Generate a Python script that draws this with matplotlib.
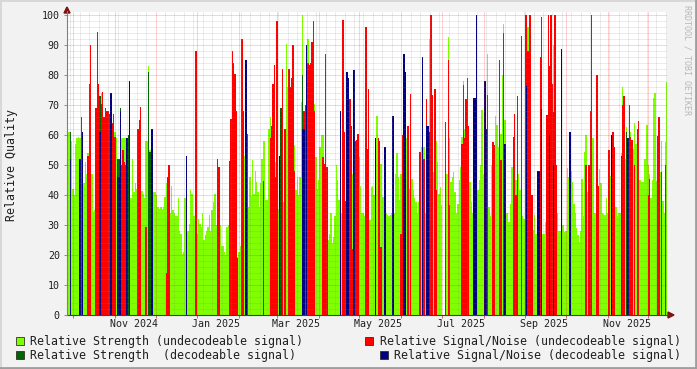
import datetime as dt
import matplotlib
matplotlib.use('Agg')
import matplotlib.pyplot as plt
import matplotlib.dates as mdates
from matplotlib.patches import Rectangle, Polygon
from matplotlib.ticker import MultipleLocator

START = dt.datetime(2024, 9, 26, 10)
SPAN_DAYS = 444.4

# daily values, index = days since START, None = no sample
strength_undec = [
    61, 61, None, 58, 42, 40, 57, 59, 59.5, 59,
    None, None, 44, 51, 47, 54, 76, None, 47, 34.5,
    35, None, None, None, 70, 74, None, None, None, None,
    None, None, None, None, None, 61, 59, None, None, None,
    59, 59, 59, 59, None, None, None, 39, 52, 41,
    44, 42, None, None, None, 41.5, 40.5, 39, 58, 58,
    83, 55, None, None, 41, 41, 40, 36, 35.5, 36,
    35.5, 36, 39.5, 44, 37, 35, 34, 43, 35, 34,
    33, 33, 39, 28, 27, 20.5, 21, 39, 21, 28,
    30.5, 41.7, 40.5, 33, 33, 30, 27, 32, 30.5, 29.5,
    34, 25, 26.7, 28, 29.5, 33.3, 28, 35, 37.8, 40.5,
    30, 30, 30, 30, 23, 23, 21, 20, 29.5, 30,
    None, None, None, None, None, None, 19.5, 21, 23, None,
    None, 53, None, None, 36, 46, 39.7, 51.7, 40.5, 48,
    44.5, 41, 36, 44, 52, 58, 58, 38.3, 38.3, 62,
    66, None, 42, None, 51, None, 35.5, None, None, 47,
    37.8, 47, 90.5, 76, None, None, None, None, 56.7, 41.7,
    46, 40, 46, 71, 100, None, None, None, 92, None,
    40, 50, None, 70.5, 52.8, 42, 45, 56, 60, 60,
    None, None, 34, 25, 27, 34, 24, 26, 33, 50,
    45, 38.3, None, 34, None, None, 34, None, 45, None,
    None, 47, None, 52.8, None, None, 52.8, 43, 34, 34,
    33, None, 38, None, 31.7, 42.8, 43, 40, None, 66.3,
    None, 50.5, 50.5, 39.4, 39.4, None, 34, 33.3, 33, 33.3,
    34, None, 34, 47, 54, 46, 38.3, 47, None, None,
    None, 59, None, 42, None, 45.5, 41.7, 39, 37.8, 34,
    37.8, None, 56, None, 56, 34, None, None, 92, None,
    47.8, 47.8, None, 58, 51, 40.5, 42.8, 36.7, None, None,
    None, 47, 92.8, 59, 44.5, 46, 47.8, 41, 34, 37,
    45, 49.4, 59.4, 78, 62, None, None, None, 44.5, 37.8,
    34, None, None, None, 41.7, 45, 50, 68.3, 47, None,
    None, 87, 36, 33, 50, None, None, 66.3, 63.3, 56,
    None, 60.5, 80, 97, 65, 34, 34, 31, 37, 49.4,
    None, None, 45, None, 47, 41.7, None, 33, 32, None,
    None, 96, None, None, None, 28.3, 33.3, 27, None, None,
    None, None, 27, 27, 31, None, None, None, None, None,
    90, None, None, 34, 28, 28, None, 30, 27.8, 28,
    49, 46, None, 48, 44.5, 37, 34, 29, 26.7, 24.5,
    28, 45.5, 33, 54.5, 60, 41, None, None, 72, 59,
    34, 34, None, None, 48.6, 44, 34, 33.7, 33.3, 39,
    34, None, 46.4, None, None, None, 36, 33, 34, 34,
    54, 76, None, 52, 62.8, None, None, 61, None, 55.5,
    64, 57, None, None, 45, 44.5, 44.5, 52, 52, 63.3,
    50, 47, 39, 45, 72.2, 74, 44.8, None, 47.8, 47.8,
    58, 38, 34, 57.8, 77.8,
]

strength_dec_days = [2, 24, 37, 38, 39, 45, 60, 61, 158, 174, 268, 301, 303, 360, 410, 414]
strength_dec = [61, 73, 52, 52, 69, 60, 81, 54.5, 69, 80, 61, 59, 54, 64, 53, 61]

sn_undec_days = [
    0, 10, 15, 16, 17, 21, 22, 23, 25, 26, 27, 28, 29, 30, 31, 33, 34, 35, 40, 41,
    42, 43, 52, 53, 54, 58, 73, 74, 75, 95, 111, 112, 120, 121, 122, 123, 124, 125, 126, 129,
    130, 133, 145, 150, 151, 152, 153, 154, 155, 159, 161, 164, 165, 166, 167, 168, 175, 176, 178, 179,
    180, 181, 182, 183, 189, 190, 191, 192, 204, 205, 206, 209, 210, 211, 213, 214, 215, 221, 222, 223,
    230, 231, 232, 247, 248, 252, 254, 261, 264, 266, 269, 270, 272, 273, 280, 282, 283, 292, 293, 294,
    295, 296, 297, 311, 315, 316, 320, 321, 323, 330, 331, 332, 333, 336, 339, 340, 341, 342, 343, 344,
    350, 351, 355, 356, 357, 358, 359, 360, 361, 362, 384, 386, 387, 388, 392, 393, 401, 404, 405, 411,
    412, 416, 417, 418, 420, 422, 423, 430, 431, 437, 438, 440, 443,
]
sn_undec = [
    58.5, 66, 53, 77, 90, 69, 94.5, 77, 70.5, 74.5, 66, 69, 68, 68, 67, 64, 67, 59.5, 50, 55,
    51, 50, 62, 65, 69.5, 29.5, 14, 46, 50, 88, 52, 49.5, 51.5, 65.5, 88, 84, 80.5, 68, 19, 92,
    68, 60.5, 44.7, 59, 63, 77, 83.3, 46, 98, 82, 62, 82, 76, 79, 90, 48, 68, 70, 84, 83.3,
    84, 91, 98, 68, 52.8, 50.5, 87, 49.5, 98.3, 61, 38, 72, 63, 22, 58, 58.3, 60.5, 96, 55.5, 75.3,
    59, 58, 22.8, 27, 60, 63, 73.7, 54.5, 52, 72, 100, 73.3, 75.5, 41.7, 64.4, 85, 36.7, 57, 76.7, 59,
    72, 79, 63, 73.3, 57.8, 56.7, 85, 51.7, 94, 59.4, 67, 40, 73, 93, 100, 100, 88, 100, 100, 40,
    86, 99.4, 66.7, 100, 83, 100, 77, 67.8, 100, 50, 50, 50, 68, 100, 80, 43, 55, 61, 56, 70,
    73, 70, 59.4, 58.3, 50, 62, 64.7, 40, 45.2, 59.7, 66, 47.6, 50,
]

sn_dec_days = [
    2, 9, 11, 24, 32, 37, 38, 39, 44, 46, 62, 63, 88, 132, 157, 174, 175, 177, 202, 207,
    208, 212, 228, 235, 241, 249, 250, 263, 266, 267, 301, 302, 303, 309, 310, 324, 340, 348, 349, 351,
    357, 360, 366, 372, 403, 415,
]
sn_dec = [
    52, 52, 61, 61, 74, 46, 46, 68, 59, 78, 62, 62, 53, 85, 53, 62, 62, 90, 68, 81,
    79, 81.7, 59, 56, 66.3, 87, 81, 86, 63, 63, 72.5, 72.5, 100, 78, 62, 57, 76.3, 48, 48, 68.7,
    60, 50, 88.6, 61, 60, 59,
]

month_labels = ['Nov 2024', 'Jan 2025', 'Mar 2025', 'May 2025', 'Jul 2025', 'Sep 2025', 'Nov 2025']
month_label_dates = ['2024-11-15', '2025-01-15', '2025-03-15', '2025-05-15',
                     '2025-07-15', '2025-09-15', '2025-11-15']

legend_labels = ['Relative Strength (undecodeable signal)',
                 'Relative Signal/Noise (undecodeable signal)',
                 'Relative Strength  (decodeable signal)',
                 'Relative Signal/Noise (decodeable signal)']

C_STR_UNDEC = '#80FF00'
C_STR_DEC = '#006400'
C_SN_UNDEC = '#FF0000'
C_SN_DEC = '#000080'
MONO = 'DejaVu Sans Mono'


def draw(ax, days, vals, color):
    pts = [(d, v) for d, v in zip(days, vals) if v is not None]
    x = [mdates.date2num(START + dt.timedelta(days=d)) for d, _ in pts]
    ax.bar(x, [v for _, v in pts], width=1.0, align='edge', color=color,
           linewidth=0, antialiased=False, zorder=1)


def main():
    W, H = 697, 369
    fig = plt.figure(figsize=(W / 100, H / 100), dpi=100)
    fig.set_facecolor('#F2F2F2')

    ax = fig.add_axes([67 / W, (H - 315) / H, 600 / W, 303 / H])
    ax.set_facecolor('white')
    for s in ax.spines.values():
        s.set_visible(False)

    draw(ax, range(len(strength_undec)), strength_undec, C_STR_UNDEC)
    draw(ax, strength_dec_days, strength_dec, C_STR_DEC)
    draw(ax, sn_undec_days, sn_undec, C_SN_UNDEC)
    draw(ax, sn_dec_days, sn_dec, C_SN_DEC)

    x0 = mdates.date2num(START)
    ax.set_xlim(x0, x0 + SPAN_DAYS)
    ax.set_ylim(0, 101)

    ax.xaxis.set_major_locator(mdates.MonthLocator())
    ax.xaxis.set_minor_locator(mdates.WeekdayLocator(byweekday=mdates.SU))
    ax.yaxis.set_major_locator(MultipleLocator(10))
    ax.yaxis.set_minor_locator(MultipleLocator(2))
    ax.set_yticks(range(0, 101, 10))

    ax.set_axisbelow(False)
    dots = (0, (1, 1))
    ax.grid(which='minor', color='#808080', alpha=0.31, linestyle=dots, linewidth=0.72)
    ax.grid(which='major', color='#FF0000', alpha=0.37, linestyle=dots, linewidth=0.72)

    ax.tick_params(axis='x', which='both', labelbottom=False, length=0)
    ax.tick_params(axis='x', which='major', length=2, color='#C07070', width=0.72)
    ax.tick_params(axis='y', which='minor', length=0)
    ax.tick_params(axis='y', which='major', length=2, width=0.72, color='#909090',
                   pad=3.2, labelsize=7.2, labelcolor='#202020')
    for lbl in ax.get_yticklabels():
        lbl.set_fontfamily(MONO)

    for lbl, d in zip(month_labels, month_label_dates):
        ax.text(mdates.datestr2num(d), -9 / 303, lbl, transform=ax.get_xaxis_transform(),
                ha='center', va='center', fontsize=7.2, family=MONO, color='#202020')

    # overlay in pixel coordinates for frame, arrows and legend
    ov = fig.add_axes([0, 0, 1, 1])
    ov.set_zorder(3)
    ov.patch.set_alpha(0)
    ov.set_xlim(0, W)
    ov.set_ylim(H, 0)
    ov.axis('off')

    ov.plot([0, W], [0.5, 0.5], color='#D8D8D8', lw=1.4)
    ov.plot([0.5, 0.5], [0, H], color='#D8D8D8', lw=1.4)
    ov.plot([0, W], [H - 1, H - 1], color='#9E9E9E', lw=2)
    ov.plot([W - 1, W - 1], [0, H], color='#9E9E9E', lw=2)

    ov.plot([66.5, 670], [315, 315], color='#404040', lw=0.8)
    ov.plot([67, 67], [315, 11], color='#808080', lw=0.8)
    ov.add_patch(Polygon([(668, 312), (668, 318), (674, 315)], closed=True, color='#7F1010'))
    ov.add_patch(Polygon([(64, 13), (70, 13), (67, 7)], closed=True, color='#7F1010'))

    ov.text(12, 165, 'Relative Quality', rotation=90, ha='center', va='center',
            fontsize=8.4, family=MONO, color='#202020')
    ov.text(687, 5, 'RRDTOOL / TOBI OETIKER', rotation=270, ha='center', va='top',
            fontsize=6, family=MONO, color='#B8B8B8')

    colors = [C_STR_UNDEC, C_SN_UNDEC, C_STR_DEC, C_SN_DEC]
    boxes = [(15.5, 341), (365, 341), (15.5, 355), (380, 355)]
    for (bx, by), col, lbl in zip(boxes, colors, legend_labels):
        ov.add_patch(Rectangle((bx, by - 4.5), 8, 8, facecolor=col, edgecolor='#303030', lw=0.6))
        ov.text(bx + 14.5, by, lbl, ha='left', va='center', fontsize=8.4,
                family=MONO, color='#202020')

    fig.savefig('out.png', dpi=100, facecolor=fig.get_facecolor())


if __name__ == '__main__':
    main()
